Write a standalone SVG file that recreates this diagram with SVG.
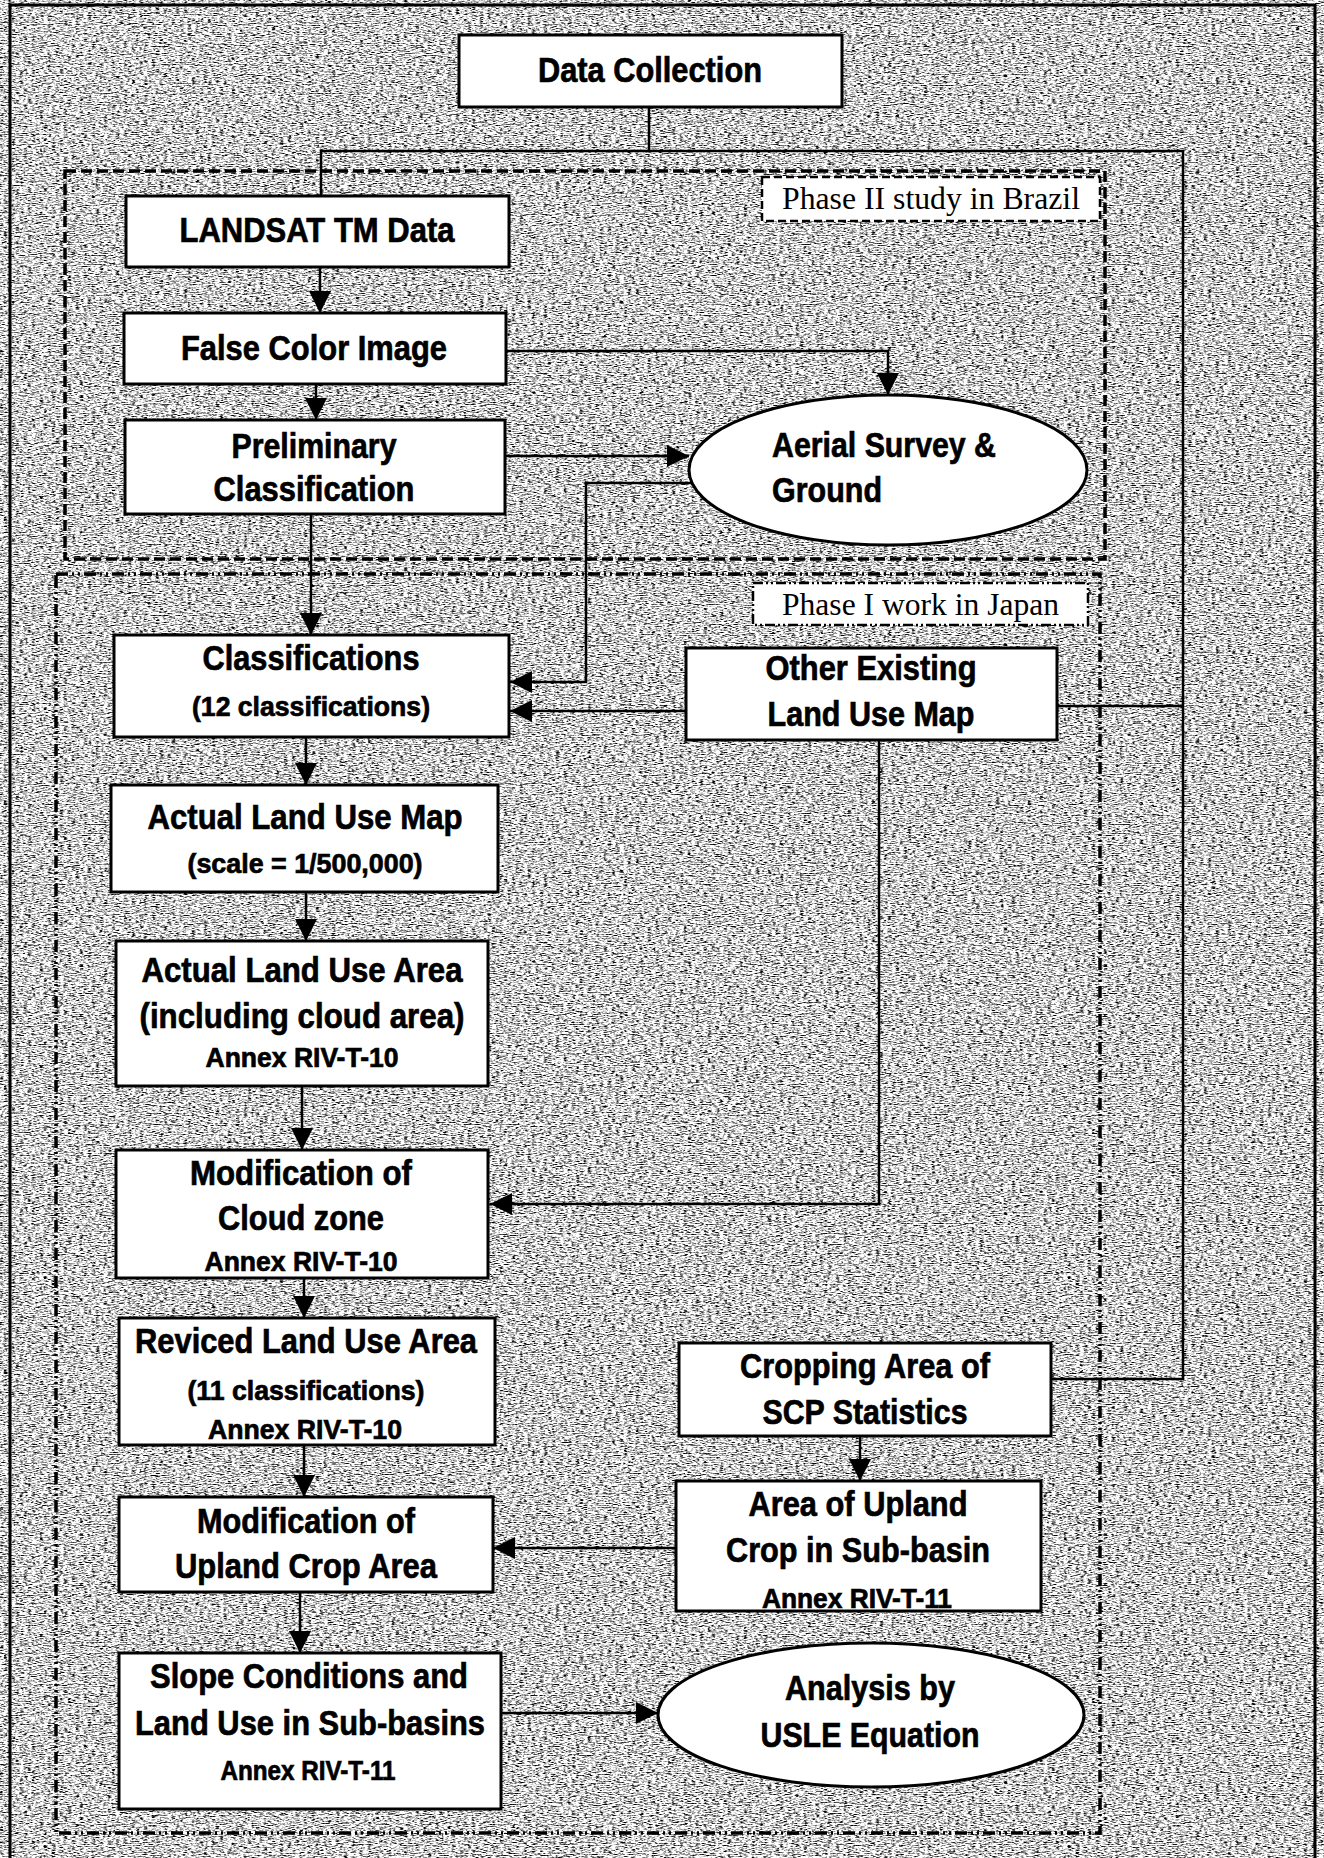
<svg xmlns="http://www.w3.org/2000/svg" width="1324" height="1858" viewBox="0 0 1324 1858">
<defs>
  <filter id="grain" x="0" y="0" width="1324" height="1858" filterUnits="userSpaceOnUse" color-interpolation-filters="sRGB">
    <feTurbulence type="fractalNoise" baseFrequency="0.25 0.9" numOctaves="3" seed="11"/>
    <feColorMatrix type="matrix" values="0.33 0.33 0.33 0 0  0.33 0.33 0.33 0 0  0.33 0.33 0.33 0 0  0 0 0 0 1"/>
    <feComponentTransfer>
      <feFuncR type="linear" slope="5" intercept="-1.65"/>
      <feFuncG type="linear" slope="5" intercept="-1.65"/>
      <feFuncB type="linear" slope="5" intercept="-1.65"/>
    </feComponentTransfer>
  </filter>
  <marker id="ah" viewBox="0 0 20 20" refX="20" refY="10" markerWidth="22" markerHeight="22" markerUnits="userSpaceOnUse" orient="auto">
    <path d="M0,0 L20,10 L0,20 z" fill="#000"/>
  </marker>
</defs>
<style>
  .box { fill:#fff; stroke:#000; stroke-width:3; }
  .t { font-family:"Liberation Sans", Arial, sans-serif; font-weight:bold; font-size:35px; text-anchor:middle; fill:#000; stroke:#000; stroke-width:0.7; }
  .l { text-anchor:start; }
  .s { font-size:27px; }
  .serif { font-family:"Liberation Serif", "Times New Roman", serif; font-size:31px; fill:#000; }
  .conn { fill:none; stroke:#000; stroke-width:2.5; }
  .arr { marker-end:url(#ah); }
  .ph2 { fill:none; stroke:#000; stroke-width:3.5; stroke-dasharray:11 5; }
  .ph1 { fill:none; stroke:#000; stroke-width:3.5; stroke-dasharray:12 4 2 4 2 4; }
  .lab2 { fill:#fff; stroke:#000; stroke-width:2.5; stroke-dasharray:8 4; }
  .lab1 { fill:#fff; stroke:#000; stroke-width:2.5; stroke-dasharray:10 3 2 3 2 3; }
</style>

<rect x="0" y="0" width="1324" height="1858" fill="#fff"/>
<rect x="0" y="0" width="1324" height="1858" filter="url(#grain)"/>
<rect x="10" y="5" width="1305" height="1880" fill="none" stroke="#000" stroke-width="3"/>

<g id="containers">
  <rect id="phase2" class="ph2" x="65" y="171" width="1040" height="388"/>
  <rect id="phase1" class="ph1" x="56" y="574" width="1044" height="1259"/>
</g>

<g id="connectors">
  <path class="conn" d="M649,107 V151"/>
  <path class="conn" d="M321,196 V151 H1183 V1379 H1051"/>
  <path class="conn" d="M1057,706 H1183"/>
  <path class="conn arr" d="M320,267 V313"/>
  <path class="conn arr" d="M316,384 V420"/>
  <path class="conn arr" d="M506,351 H888 V395"/>
  <path class="conn arr" d="M505,456 H689"/>
  <path class="conn arr" d="M692,483 H586 V682 H510"/>
  <path class="conn arr" d="M311,514 V635"/>
  <path class="conn arr" d="M686,711 H510"/>
  <path class="conn arr" d="M879,740 V1204 H490"/>
  <path class="conn arr" d="M306,737 V785"/>
  <path class="conn arr" d="M306,892 V941"/>
  <path class="conn arr" d="M302,1086 V1150"/>
  <path class="conn arr" d="M304,1278 V1318"/>
  <path class="conn arr" d="M304,1445 V1497"/>
  <path class="conn arr" d="M300,1592 V1653"/>
  <path class="conn arr" d="M860,1436 V1481"/>
  <path class="conn arr" d="M676,1548 H493"/>
  <path class="conn arr" d="M501,1713 H658"/>
</g>

<g id="label-phase2">
  <rect class="lab2" x="762" y="177" width="338" height="44"/>
  <text class="serif" x="782" y="209" textLength="298" lengthAdjust="spacingAndGlyphs">Phase II study in Brazil</text>
</g>
<g id="label-phase1">
  <rect class="lab1" x="753" y="583" width="335" height="42"/>
  <text class="serif" x="782" y="615" textLength="277" lengthAdjust="spacingAndGlyphs">Phase I work in Japan</text>
</g>

<g id="data-collection">
  <rect class="box" x="459" y="35" width="383" height="72"/>
  <text class="t" x="650" y="82" textLength="224" lengthAdjust="spacingAndGlyphs">Data Collection</text>
</g>
<g id="landsat">
  <rect class="box" x="126" y="196" width="383" height="71"/>
  <text class="t" x="317" y="242" textLength="275" lengthAdjust="spacingAndGlyphs">LANDSAT TM Data</text>
</g>
<g id="false-color">
  <rect class="box" x="124" y="313" width="382" height="71"/>
  <text class="t" x="314" y="360" textLength="266" lengthAdjust="spacingAndGlyphs">False Color Image</text>
</g>
<g id="preliminary">
  <rect class="box" x="125" y="420" width="380" height="94"/>
  <text class="t" x="314" y="458" textLength="165" lengthAdjust="spacingAndGlyphs">Preliminary</text>
  <text class="t" x="314" y="501" textLength="201" lengthAdjust="spacingAndGlyphs">Classification</text>
</g>
<g id="aerial-survey">
  <ellipse class="box" cx="888" cy="470" rx="199" ry="75"/>
  <text class="t l" x="772" y="457" textLength="224" lengthAdjust="spacingAndGlyphs">Aerial Survey &amp;</text>
  <text class="t l" x="772" y="502" textLength="110" lengthAdjust="spacingAndGlyphs">Ground</text>
</g>
<g id="classifications">
  <rect class="box" x="114" y="635" width="395" height="102"/>
  <text class="t" x="311" y="670" textLength="217" lengthAdjust="spacingAndGlyphs">Classifications</text>
  <text class="t s" x="311" y="716" textLength="238" lengthAdjust="spacingAndGlyphs">(12 classifications)</text>
</g>
<g id="other-existing">
  <rect class="box" x="686" y="648" width="371" height="92"/>
  <text class="t" x="871" y="680" textLength="211" lengthAdjust="spacingAndGlyphs">Other Existing</text>
  <text class="t" x="871" y="726" textLength="207" lengthAdjust="spacingAndGlyphs">Land Use Map</text>
</g>
<g id="actual-map">
  <rect class="box" x="111" y="785" width="387" height="107"/>
  <text class="t" x="305" y="829" textLength="315" lengthAdjust="spacingAndGlyphs">Actual Land Use Map</text>
  <text class="t s" x="305" y="873" textLength="235" lengthAdjust="spacingAndGlyphs">(scale = 1/500,000)</text>
</g>
<g id="actual-area">
  <rect class="box" x="116" y="941" width="372" height="145"/>
  <text class="t" x="302" y="982" textLength="321" lengthAdjust="spacingAndGlyphs">Actual Land Use Area</text>
  <text class="t" x="302" y="1028" textLength="325" lengthAdjust="spacingAndGlyphs">(including cloud area)</text>
  <text class="t s" x="302" y="1067" textLength="193" lengthAdjust="spacingAndGlyphs">Annex RIV-T-10</text>
</g>
<g id="mod-cloud">
  <rect class="box" x="116" y="1150" width="372" height="128"/>
  <text class="t" x="301" y="1185" textLength="222" lengthAdjust="spacingAndGlyphs">Modification of</text>
  <text class="t" x="301" y="1230" textLength="166" lengthAdjust="spacingAndGlyphs">Cloud zone</text>
  <text class="t s" x="301" y="1271" textLength="193" lengthAdjust="spacingAndGlyphs">Annex RIV-T-10</text>
</g>
<g id="reviced">
  <rect class="box" x="119" y="1318" width="376" height="127"/>
  <text class="t" x="306" y="1353" textLength="342" lengthAdjust="spacingAndGlyphs">Reviced Land Use Area</text>
  <text class="t s" x="306" y="1400" textLength="237" lengthAdjust="spacingAndGlyphs">(11 classifications)</text>
  <text class="t s" x="305" y="1439" textLength="194" lengthAdjust="spacingAndGlyphs">Annex RIV-T-10</text>
</g>
<g id="mod-upland">
  <rect class="box" x="119" y="1497" width="374" height="95"/>
  <text class="t" x="306" y="1533" textLength="218" lengthAdjust="spacingAndGlyphs">Modification of</text>
  <text class="t" x="306" y="1578" textLength="262" lengthAdjust="spacingAndGlyphs">Upland Crop Area</text>
</g>
<g id="slope">
  <rect class="box" x="119" y="1653" width="382" height="156"/>
  <text class="t" x="309" y="1688" textLength="318" lengthAdjust="spacingAndGlyphs">Slope Conditions and</text>
  <text class="t" x="310" y="1735" textLength="350" lengthAdjust="spacingAndGlyphs">Land Use in Sub-basins</text>
  <text class="t s" x="308" y="1780" textLength="175" lengthAdjust="spacingAndGlyphs">Annex RIV-T-11</text>
</g>
<g id="cropping">
  <rect class="box" x="679" y="1343" width="372" height="93"/>
  <text class="t" x="865" y="1378" textLength="250" lengthAdjust="spacingAndGlyphs">Cropping Area of</text>
  <text class="t" x="865" y="1424" textLength="205" lengthAdjust="spacingAndGlyphs">SCP Statistics</text>
</g>
<g id="upland-area">
  <rect class="box" x="676" y="1481" width="365" height="130"/>
  <text class="t" x="858" y="1516" textLength="219" lengthAdjust="spacingAndGlyphs">Area of Upland</text>
  <text class="t" x="858" y="1562" textLength="264" lengthAdjust="spacingAndGlyphs">Crop in Sub-basin</text>
  <text class="t s" x="857" y="1608" textLength="190" lengthAdjust="spacingAndGlyphs">Annex RIV-T-11</text>
</g>
<g id="usle">
  <ellipse class="box" cx="871" cy="1715" rx="213" ry="72"/>
  <text class="t" x="870" y="1700" textLength="170" lengthAdjust="spacingAndGlyphs">Analysis by</text>
  <text class="t" x="870" y="1747" textLength="219" lengthAdjust="spacingAndGlyphs">USLE Equation</text>
</g>
</svg>
